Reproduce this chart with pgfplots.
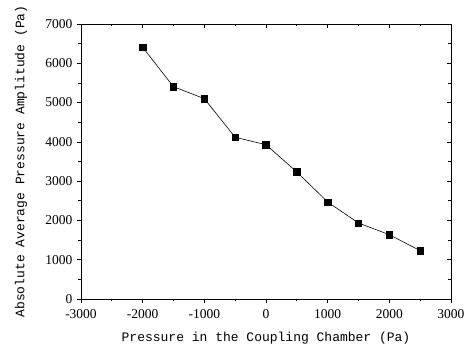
\documentclass[border=0pt]{standalone}
\usepackage{fontspec}
\setmainfont{Liberation Serif}
\newfontfamily\labfont{Liberation Mono}
\usepackage{pgfplots}
\pgfplotsset{compat=1.18}
\begin{document}
\begin{tikzpicture}
\begin{axis}[
  scale only axis, width=370pt, height=275pt,
  xmin=-3000, xmax=3000, ymin=0, ymax=7000,
  xtick={-3000,-2000,...,3000}, ytick={0,1000,...,7000},
  minor x tick num=1, minor y tick num=1,
  tick align=outside, xtick pos=bottom, ytick pos=left,
  major tick length=4pt, minor tick length=2.5pt,
  tick style={black, line width=0.7pt},
  axis line style={line width=0.8pt},
  /pgf/number format/assume math mode=true,
  /pgf/number format/1000 sep={},
  ticklabel style={font=\fontsize{13.5}{15}\selectfont},
  xticklabel style={yshift=-2.5pt},
  yticklabel style={xshift=-1pt},
  xlabel={\labfont Pressure in the Coupling Chamber (Pa)},
  ylabel={\labfont Absolute Average Pressure Amplitude (Pa)},
  label style={font=\fontsize{13}{15}\selectfont},
  xlabel style={at={(axis description cs:0.5,-0.142)}, anchor=center},
  ylabel style={at={(axis description cs:-0.162,0.5)}, anchor=center},
]
\addplot[black, line width=0.6pt, mark=square*, mark size=3.2pt, mark options={solid}] coordinates {
(-2000,6407) (-1500,5404) (-1000,5099) (-500,4116) (0,3928)
(500,3233) (1000,2469) (1500,1934) (2000,1637) (2500,1230)
};
\end{axis}
\begin{axis}[
  scale only axis, width=370pt, height=275pt,
  xmin=-3000, xmax=3000, ymin=0, ymax=7000,
  xtick={-3000,-2000,...,3000}, ytick={0,1000,...,7000},
  minor x tick num=1, minor y tick num=1,
  tick align=inside, xtick pos=top, ytick pos=right,
  major tick length=4pt, minor tick length=2.5pt,
  tick style={black, line width=0.7pt},
  axis line style={line width=0.8pt},
  xticklabels={}, yticklabels={},
]
\end{axis}
\pgfresetboundingbox
\useasboundingbox (-81pt,-48pt) rectangle (387pt,299pt);
\end{tikzpicture}
\end{document}
